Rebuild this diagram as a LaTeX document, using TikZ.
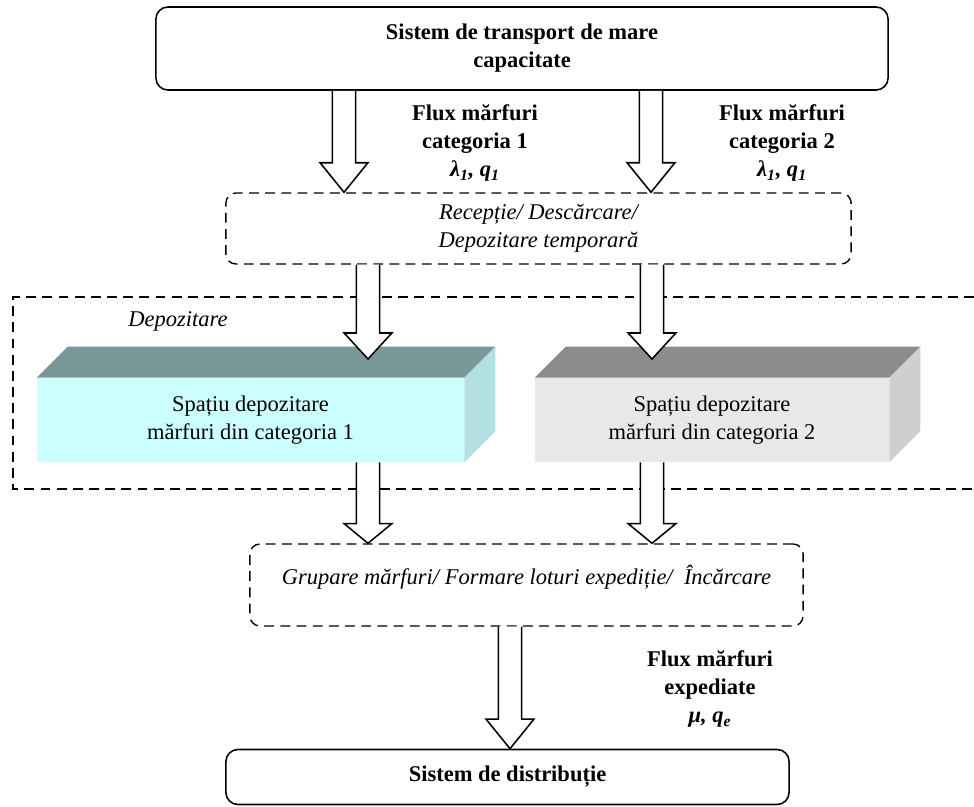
\documentclass[tikz,border=0pt]{standalone}
\usepackage{fontspec}
\setmainfont{Liberation Serif}
\usetikzlibrary{calc}
\definecolor{cyanfront}{HTML}{CCFFFF}
\definecolor{cyantop}{HTML}{7A9897}
\definecolor{cyanside}{HTML}{B3E0E0}
\definecolor{greyfront}{HTML}{E8E8E8}
\definecolor{greytop}{HTML}{8C8C8C}
\definecolor{greyside}{HTML}{CFCFCF}
\tikzset{
  txt/.style={font=\fontsize{16}{20}\selectfont, align=center},
  solidbox/.style={draw, line width=1.1pt, rounded corners=0.3cm, txt, font=\fontsize{16}{20}\selectfont\bfseries},
  dashbox/.style={draw, line width=1pt, dash pattern=on 7pt off 4.5pt, rounded corners=0.25cm, txt, font=\fontsize{16}{20}\selectfont\itshape},
  cubefront/.style={minimum height=2.1cm, inner sep=0pt, txt},
  flux/.style={txt, font=\fontsize{16}{20}\selectfont\bfseries},
  hollow/.style={draw, fill=white, line width=1.1pt, line join=miter}
}
\newcommand{\hollowarrow}[3][21pt]{%
  \draw[hollow] let \p1=#2, \p2=#3 in
    (\x1-8.2pt,\y1) -- (\x1-8.2pt,\y2+#1) -- (\x1-17pt,\y2+#1) -- (\x1,\y2)
    -- (\x1+17pt,\y2+#1) -- (\x1+8.2pt,\y2+#1) -- (\x1+8.2pt,\y1);}

\begin{document}
\begin{tikzpicture}[x={(0.025cm,0)}, y={(0,-0.025cm)}]
\useasboundingbox (0,0) rectangle (974,807);
\draw[line width=1pt, dash pattern=on 7pt off 4.5pt] (974,297) -| (13,489) -- (974,489);
\node[txt, font=\fontsize{16}{20}\selectfont\itshape] (deplabel) at (178,321) {Depozitare};

\node[solidbox, minimum width=18.3cm, minimum height=2.075cm] (transport) at (522,48.5) {Sistem de transport de mare\\capacitate};
\node[dashbox, minimum width=15.625cm, minimum height=1.775cm] (reception) at (538.5,228.5) {Recepție/ Descărcare/\\Depozitare temporară};
\node[dashbox, minimum width=13.825cm, minimum height=2.05cm, text depth=15pt] (grouping) at (526.5,585) {Grupare mărfuri/ Formare loturi expediție/\ \ Încărcare};
\node[solidbox, minimum width=14.075cm, minimum height=1.375cm] (distrib) at (507.5,777) {Sistem de distribuție};

\node[cubefront, fill=cyanfront, minimum width=10.675cm] (store1) at (250.5,420) {Spațiu depozitare\\mărfuri din categoria 1};
\node[cubefront, fill=greyfront, minimum width=8.85cm] (store2) at (712,420) {Spațiu depozitare\\mărfuri din categoria 2};
\fill[cyantop] (store1.north west) -- ++(31,-31) -- ([shift={(31,-31)}]store1.north east) -- (store1.north east) -- cycle;
\fill[cyanside] (store1.north east) -- ++(31,-31) -- ([shift={(31,-31)}]store1.south east) -- (store1.south east) -- cycle;
\fill[greytop] (store2.north west) -- ++(31,-31) -- ([shift={(31,-31)}]store2.north east) -- (store2.north east) -- cycle;
\fill[greyside] (store2.north east) -- ++(31,-31) -- ([shift={(31,-31)}]store2.south east) -- (store2.south east) -- cycle;

\node[flux] (flux1) at (475,143) {Flux mărfuri\\categoria 1\\\textit{λ\textsubscript{1}, q\textsubscript{1}}};
\node[flux] (flux2) at (782,143) {Flux mărfuri\\categoria 2\\\textit{λ\textsubscript{1}, q\textsubscript{1}}};
\node[flux] (flux3) at (710,689) {Flux mărfuri\\expediate\\\textit{μ, q\textsubscript{e}}};

\coordinate (in1) at (344,0);
\coordinate (in2) at (651,0);
\coordinate (dep1) at (368,359);
\coordinate (dep2) at (652,359);
\coordinate (out) at (510,0);
\hollowarrow{(transport.south -| in1)}{(reception.north -| in1)}
\hollowarrow{(transport.south -| in2)}{(reception.north -| in2)}
\hollowarrow[18.5pt]{(reception.south -| dep1)}{(dep1)}
\hollowarrow[18.5pt]{(reception.south -| dep2)}{(dep2)}
\hollowarrow[14pt]{(store1.south -| dep1)}{(grouping.north -| dep1)}
\hollowarrow[14pt]{(store2.south -| dep2)}{(grouping.north -| dep2)}
\hollowarrow{(grouping.south -| out)}{(distrib.north -| out)}
\end{tikzpicture}
\end{document}
